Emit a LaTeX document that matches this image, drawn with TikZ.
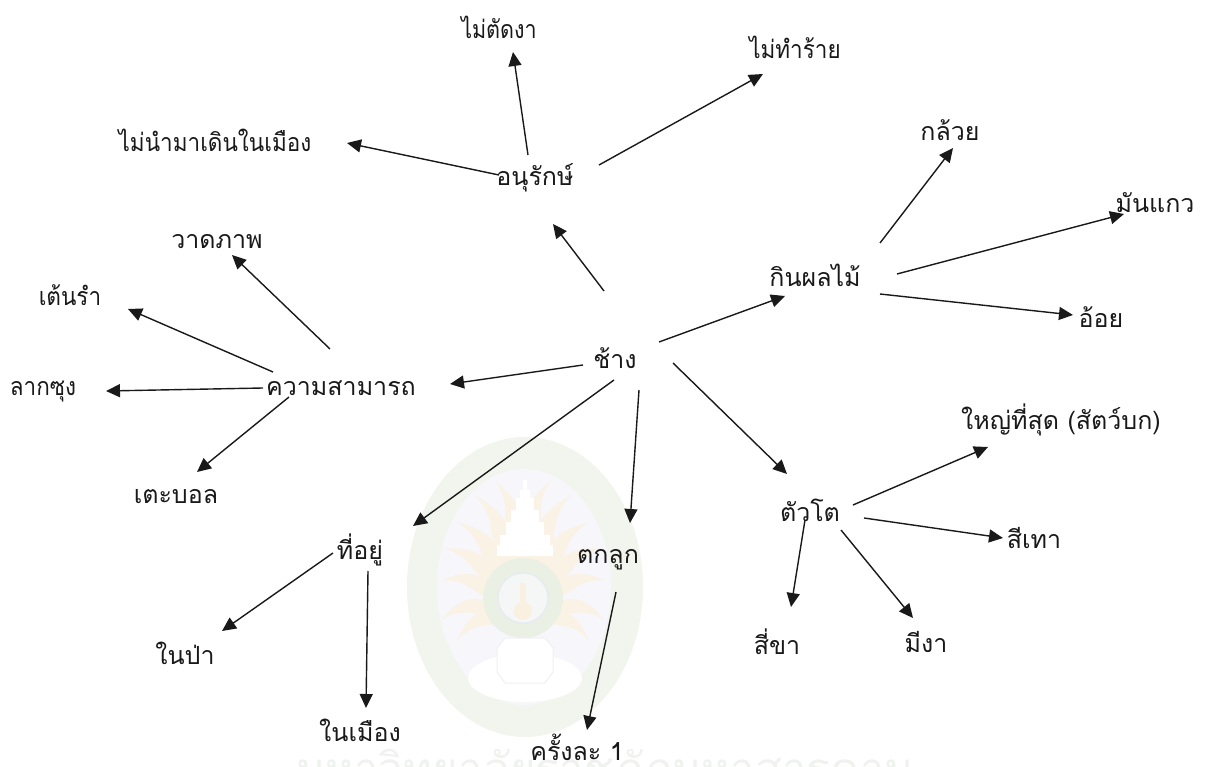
\documentclass[tikz,border=0pt]{standalone}
\usepackage{fontspec}
\usetikzlibrary{arrows.meta,calc}
\newfontfamily\thaifont[Script=Thai]{Loma}
\definecolor{ringg}{HTML}{F2F5ED}
\definecolor{innerb}{HTML}{F6F6FB}
\definecolor{raya}{HTML}{FAF2E4}
\definecolor{discg}{HTML}{EBF0E5}
\definecolor{discb}{HTML}{F5F6F6}
\definecolor{discl}{HTML}{E6EAF2}
\definecolor{keyo}{HTML}{FAF0DF}
\definecolor{basel}{HTML}{F0F0F3}
\definecolor{wmtext}{HTML}{F0F2EF}
\newcommand{\sq}[2]{\scalebox{#1}[1]{#2}}
\tikzset{
  lbl/.style={inner sep=0pt,font=\thaifont\fontsize{25}{30}\selectfont,text=black!90},
  arr/.style={line width=1.4pt,black!90,-{Triangle[length=14pt,width=13pt]}},
  flame/.style={fill=raya},
}
\begin{document}
\begin{tikzpicture}[x=1pt,y=-1pt]
\useasboundingbox (0,0) rectangle (1210,767);
\clip (0,0) rectangle (1210,767);
% watermark emblem
\fill[ringg] (525,587) ellipse [x radius=118,y radius=150];
\fill[innerb] (524,587) ellipse [x radius=87,y radius=118];
\foreach \sx in {1,-1}{
\begin{scope}[shift={(523,598)},xscale=\sx]
\foreach \a/\l in {-100/120,-112/113,-128/100,-145/93,-165/84,168/84,150/78}{
  \fill[flame] (\a-10:36) .. controls (\a-16:{0.55*\l}) and (\a+6:{0.7*\l}) .. (\a-3:\l)
     .. controls (\a+18:{0.7*\l}) and (\a+9:{0.55*\l}) .. (\a+10:36) -- cycle;
}
\end{scope}}
\foreach \t/\b/\w in {480/490/2,490/498/5,498/510/9,510/522/14,522/535/19,535/545/25,545/556/28}{
  \fill[white] (525-\w,\t) rectangle (525+\w,\b);
}
\fill[discg] (523,598) circle [radius=40];
\fill[discb,draw=discl,line width=1.2pt] (523,598) circle [radius=25];
\fill[keyo] (523,611) circle [radius=9];
\fill[keyo] (520,583) rectangle (526,606);
\fill[white] (525,678) ellipse [x radius=57,y radius=24];
\fill[white,draw=basel,line width=1pt] (505,638) -- (545,638) -- (553,648) -- (553,672) -- (545,683) -- (505,683) -- (497,672) -- (497,648) -- cycle;
\node[inner sep=0pt,anchor=base west,text=wmtext,font=\thaifont\fontsize{44}{50}\selectfont] (wm) at (296,784) {มหาวิทยาลัยราชภัฏมหาสารคาม};
% nodes
\node[lbl] (el) at (615,358) {ช้าง};
\node[lbl] (cons) at (535,178) {อนุรักษ์};
\node[lbl] (nocut) at (499,27) {\sq{.86}{ไม่ตัดงา}};
\node[lbl] (nohurt) at (795,47) {\sq{.9}{ไม่ทำร้าย}};
\node[lbl] (nowalk) at (215,140) {\sq{.9}{ไม่นำมาเดินในเมือง}};
\node[lbl] (fruit) at (815,275) {กินผลไม้};
\node[lbl] (banana) at (950,130) {กล้วย};
\node[lbl] (cassava) at (1155,203) {มันแกว};
\node[lbl] (cane) at (1101,317) {อ้อย};
\node[lbl] (ability) at (341,388) {ความสามารถ};
\node[lbl] (paint) at (217,242) {วาดภาพ};
\node[lbl] (dance) at (70,295) {\sq{.9}{เต้นรำ}};
\node[lbl] (haul) at (43,392) {\sq{.9}{ลากซุง}};
\node[lbl] (ball) at (176,497) {เตะบอล};
\node[lbl] (home) at (360,550) {ที่อยู่};
\node[lbl] (forest) at (185,653) {ในป่า};
\node[lbl] (city) at (360,730) {ในเมือง};
\node[lbl] (birth) at (608,560) {ตกลูก};
\node[lbl] (once) at (577,747) {ครั้งละ 1};
\node[lbl] (big) at (810,510) {ตัวโต};
\node[lbl] (largest) at (1061,420) {ใหญ่ที่สุด (สัตว์บก)};
\node[lbl] (grey) at (1034,538) {สีเทา};
\node[lbl] (four) at (777,642) {สี่ขา};
\node[lbl] (tusk) at (926,642) {มีงา};
% connectors
\draw[arr] ($(el)+(-11,-67)$) -- ($(cons)+(18,46)$);
\draw[arr] ($(cons)+(-7,-23)$) -- ($(nocut)+(14,25)$);
\draw[arr] ($(cons)+(64,-13)$) -- ($(nohurt)+(-32,27)$);
\draw[arr] ($(cons)+(-36,-3)$) -- ($(nowalk)+(132,3)$);
\draw[arr] ($(el)+(44,-16)$) -- ($(fruit)+(-30,21)$);
\draw[arr] ($(fruit)+(65,-32)$) -- ($(banana)+(3,18)$);
\draw[arr] ($(fruit)+(82,-1)$) -- ($(cassava)+(-31,11)$);
\draw[arr] ($(fruit)+(65,19)$) -- ($(cane)+(-28,-2)$);
\draw[arr] ($(el)+(-32,7)$) -- ($(ability)+(109,-4)$);
\draw[arr] ($(ability)+(-11,-39)$) -- ($(paint)+(15,13)$);
\draw[arr] ($(ability)+(-68,-16)$) -- ($(dance)+(58,14)$);
\draw[arr] ($(ability)+(-78,0)$) -- ($(haul)+(63,-1)$);
\draw[arr] ($(ability)+(-52,9)$) -- ($(ball)+(21,-25)$);
\draw[arr] ($(el)+(-1,22)$) -- ($(home)+(53,-24)$);
\draw[arr] ($(el)+(24,32)$) -- ($(birth)+(22,-37)$);
\draw[arr] ($(el)+(58,5)$) -- ($(big)+(-23,-36)$);
\draw[arr] ($(big)+(43,-5)$) -- ($(largest)+(-73,27)$);
\draw[arr] ($(big)+(54,8)$) -- ($(grey)+(-31,0)$);
\draw[arr] ($(big)+(-5,10)$) -- ($(four)+(14,-35)$);
\draw[arr] ($(big)+(31,20)$) -- ($(tusk)+(-13,-24)$);
\draw[arr] ($(home)+(-27,3)$) -- ($(forest)+(37,-22)$);
\draw[arr] ($(home)+(8,21)$) -- ($(city)+(6,-22)$);
\draw[arr] ($(birth)+(8,32)$) -- ($(once)+(10,-17)$);
\end{tikzpicture}
\end{document}
